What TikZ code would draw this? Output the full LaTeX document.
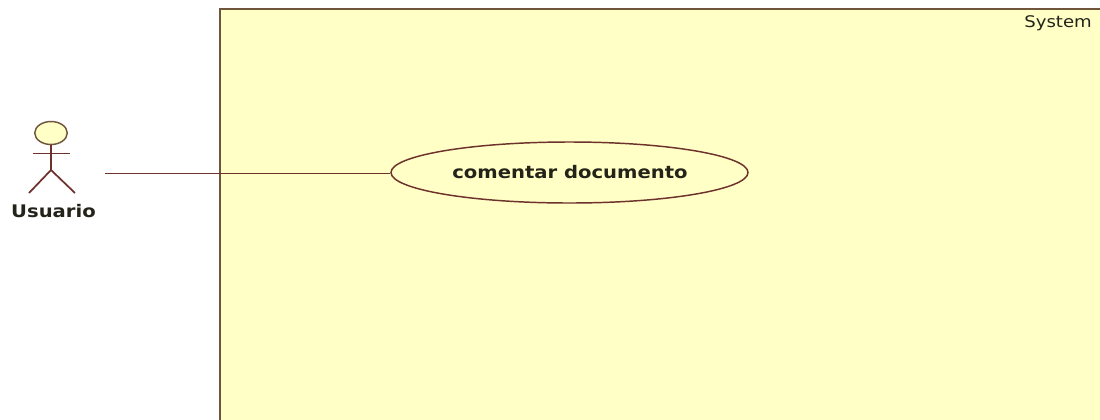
\documentclass[tikz,border=0pt]{standalone}
\usepackage{fontspec}
\usepackage{graphicx}
\setmainfont{DejaVu Sans}
\usetikzlibrary{shapes.geometric}
\definecolor{umlline}{RGB}{110,50,45}
\definecolor{umlborder}{RGB}{110,85,60}
\definecolor{umlfill}{RGB}{255,255,198}
\definecolor{umltext}{RGB}{35,35,25}
\newcommand{\widetxt}[1]{\scalebox{1.13}[1]{#1}}
\tikzset{
  uline/.style={draw=umlline,line width=1.3pt},
  boldlabel/.style={text=umltext,font=\fontsize{13pt}{15pt}\selectfont\bfseries,inner sep=0pt},
  sysbox/.style={fill=umlfill,draw=umlborder,line width=1.5pt},
  usecase/.style={ellipse,draw=umlline,fill=umlfill,line width=1.1pt,minimum width=357*0.75pt,minimum height=61*0.75pt,inner sep=0pt},
  head/.style={ellipse,draw=umlborder,fill=umlfill,line width=1.1pt,minimum width=32.5*0.75pt,minimum height=23*0.75pt,inner sep=0pt}
}
\begin{document}
\begin{tikzpicture}[x=0.75pt,y=-0.75pt]
\useasboundingbox (0,0) rectangle (1100,419);
\path[fill=white] (0,0) rectangle (1100,419);
\begin{scope}
\clip (0,0) rectangle (1100,419);
\draw[sysbox] (220,8.5) rectangle (1120,440);
\end{scope}
\node[text=umltext,font=\fontsize{12pt}{14pt}\selectfont,inner sep=0pt,anchor=east] (sys) at (1092,23) {\widetxt{System}};
\node[usecase] (uc) at (569.5,172.5) {};
\node[boldlabel] (uct) at (570,172.5) {\widetxt{comentar documento}};
\node[head] (hd) at (51,133) {};
\coordinate (hip) at (51,170);
\coordinate (al) at (33,153.5);
\coordinate (ar) at (70,153.5);
\coordinate (ll) at (29,193);
\coordinate (lr) at (75,193);
\draw[uline] (hd.south) -- (hip);
\draw[uline] (al) -- (ar);
\draw[uline] (ll) -- (hip) -- (lr);
\node[boldlabel] (act) at (53.5,211) {\widetxt{Usuario}};
\coordinate (linkstart) at (105,173.5);
\draw[uline] (linkstart) -- (linkstart -| uc.west);
\end{tikzpicture}
\end{document}
